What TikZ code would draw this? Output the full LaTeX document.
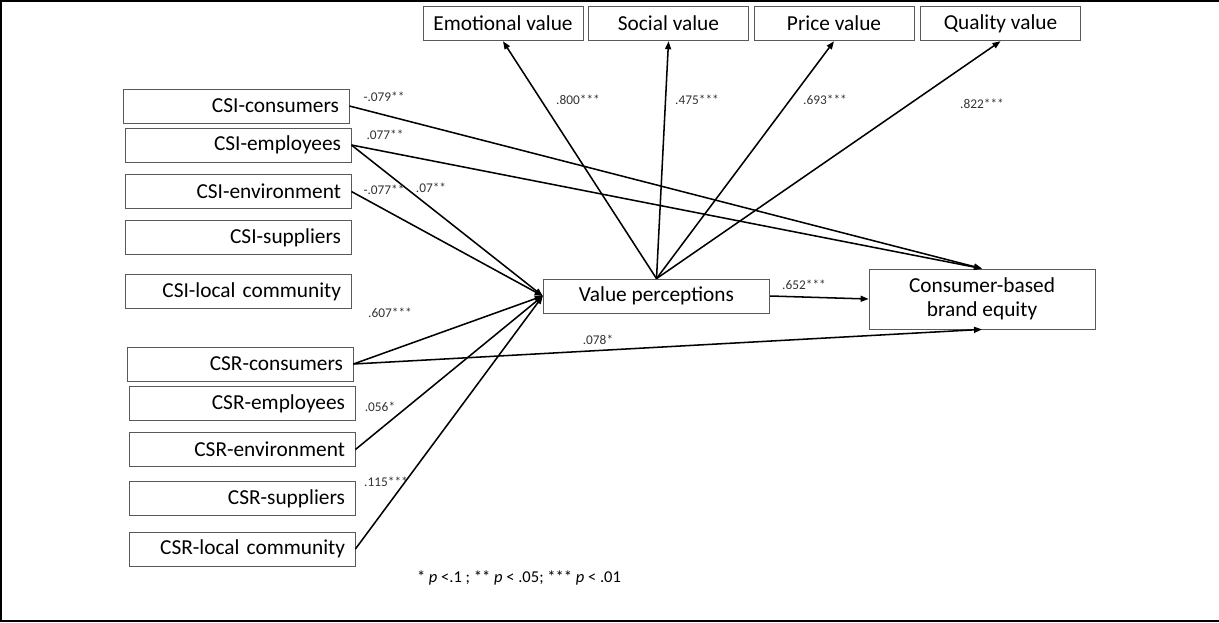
\documentclass[tikz,border=0pt]{standalone}
\usepackage{fontspec}
\setmainfont{Carlito}
\usetikzlibrary{arrows.meta}

\begin{document}
\begin{tikzpicture}[x=0.75pt,y=0.75pt,yscale=-1,xscale=1,
	box/.style={draw=black!65,line width=0.6pt,inner sep=0pt,font=\fontsize{16}{18}\selectfont},
	leftbox/.style={box,minimum width=169.5pt,minimum height=25.5pt,text width=154.5pt,align=right},
	topbox/.style={box,minimum width=120pt,minimum height=26pt},
	coef/.style={inner sep=0pt,font=\fontsize{10}{11}\selectfont,text=black!80},
	path/.style={line width=1.15pt,-{Triangle[length=6pt,width=4.5pt]}}]
	\useasboundingbox (0,0) rectangle (1219,622);
	\draw [line width=1.5pt] (1219,1) -- (1,1) -- (1,621) -- (1219,621) ;

	% value dimensions
	\node [topbox] (emo) at (503,23.5) {Emotional value};
	\node [topbox] (soc) at (668.5,23.5) {Social value};
	\node [topbox] (pri) at (834,23.5) {Price value};
	\node [topbox] (qua) at (1000.5,23.5) {Quality value};

	% CSI and CSR dimensions
	\node [leftbox] (csicon) at (236,106) {CSI-consumers};
	\node [leftbox] (csiemp) at (238,145) {CSI-employees};
	\node [leftbox] (csienv) at (238,191.5) {CSI-environment};
	\node [leftbox] (csisup) at (238,237.5) {CSI-suppliers};
	\node [leftbox] (csiloc) at (238,291.5) {CSI-local community};
	\node [leftbox] (csrcon) at (240,364) {CSR-consumers};
	\node [leftbox] (csremp) at (242,403.5) {CSR-employees};
	\node [leftbox] (csrenv) at (242,449.5) {CSR-environment};
	\node [leftbox] (csrsup) at (242,498.5) {CSR-suppliers};
	\node [leftbox] (csrloc) at (242,549) {CSR-local community};

	\node [box,minimum width=170pt,minimum height=25.5pt] (vp) at (656.5,296) {Value perceptions};
	\node [box,minimum width=169.5pt,minimum height=45pt,align=center] (cbbe) at (982,299) {Consumer-based\\brand equity};

	% paths
	\draw [path] (vp.north) -- (emo.south) ;
	\draw [path] (vp.north) -- (soc.south) ;
	\draw [path] (vp.north) -- (pri.south) ;
	\draw [path] (vp.north) -- (qua.south) ;
	\draw [path] (csicon.east) -- (cbbe.north) ;
	\draw [path] (csiemp.east) -- (cbbe.north) ;
	\draw [path] (csiemp.east) -- (vp.west) ;
	\draw [path] (csienv.east) -- (vp.west) ;
	\draw [path] (csrcon.east) -- (vp.west) ;
	\draw [path] (csrenv.east) -- (vp.west) ;
	\draw [path] (csrloc.east) -- (vp.west) ;
	\draw [path] (csrcon.east) -- (cbbe.south) ;
	\draw [path] (vp.east) -- (cbbe.west) ;

	% coefficients
	\node [coef] (c1) at (384,97) {-.079**};
	\node [coef] (c2) at (385,135) {.077**};
	\node [coef] (c3) at (384,190) {-.077**};
	\node [coef] (c4) at (431,188) {.07**};
	\node [coef] (c5) at (578,100) {.800***};
	\node [coef] (c6) at (697,100) {.475***};
	\node [coef] (c7) at (825,100) {.693***};
	\node [coef] (c8) at (982,104) {.822***};
	\node [coef] (c9) at (390,313) {.607***};
	\node [coef] (c10) at (380,407) {.056*};
	\node [coef] (c11) at (386,482) {.115***};
	\node [coef] (c12) at (804,285) {.652***};
	\node [coef] (c13) at (598,340) {.078*};

	\node [inner sep=0pt,font=\fontsize{12.4}{14}\selectfont] (note) at (519,578) {* \textit{p} <.1 ; ** \textit{p} < .05; *** \textit{p} < .01};
\end{tikzpicture}
\end{document}
